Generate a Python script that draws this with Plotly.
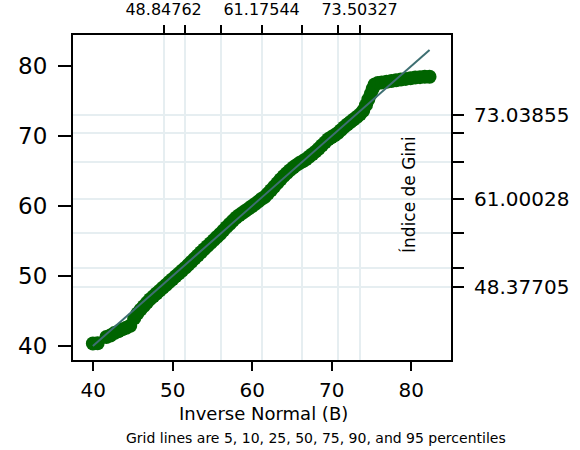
import plotly.graph_objects as go

# Inverse normal quantiles (x) and sorted Gini index values (y)
inv_normal = [39.95, 40.55, 41.65, 42.15, 42.65, 43.15, 43.65, 44.15, 44.65, 45.15,
              45.55, 45.95, 46.35, 46.75, 47.15, 47.55, 47.95, 48.35, 48.75, 49.15,
              49.55, 49.95, 50.35, 50.75, 51.15, 51.55, 51.95, 52.35, 52.75, 53.15,
              53.55, 53.95, 54.35, 54.75, 55.15, 55.55, 55.95, 56.35, 56.75, 57.15,
              57.55, 57.95, 58.35, 58.75, 59.15, 59.55, 59.95, 60.35, 60.75, 61.15,
              61.55, 61.95, 62.35, 62.75, 63.15, 63.55, 63.95, 64.35, 64.75, 65.15,
              65.55, 65.95, 66.35, 66.75, 67.15, 67.55, 67.95, 68.35, 68.75, 69.15,
              69.55, 69.95, 70.35, 70.75, 71.15, 71.55, 71.95, 72.35, 72.75, 73.15,
              73.55, 73.95, 74.30, 74.60, 74.90, 75.15, 75.40, 75.80, 76.30, 76.90,
              77.50, 78.10, 78.70, 79.30, 79.90, 80.50, 81.10, 81.70, 82.30]
gini = [40.30, 40.35, 41.25, 41.45, 41.80, 42.05, 42.35, 42.55, 42.85, 43.90,
        44.60, 45.15, 45.65, 46.15, 46.65, 47.05, 47.45, 47.87, 48.28, 48.68,
        49.10, 49.50, 49.91, 50.31, 50.72, 51.12, 51.56, 52.01, 52.45, 52.90,
        53.35, 53.80, 54.23, 54.66, 55.10, 55.55, 55.98, 56.45, 56.95, 57.40,
        57.85, 58.30, 58.65, 58.97, 59.30, 59.60, 59.93, 60.25, 60.60, 60.98,
        61.26, 61.72, 62.23, 62.72, 63.25, 63.77, 64.25, 64.68, 65.10, 65.47,
        65.82, 66.12, 66.37, 66.65, 67.02, 67.38, 67.75, 68.17, 68.62, 69.07,
        69.52, 69.80, 70.10, 70.40, 70.82, 71.25, 71.62, 71.98, 72.35, 72.70,
        73.08, 73.60, 74.40, 75.20, 76.00, 76.75, 77.35, 77.55, 77.65, 77.75,
        77.85, 77.95, 78.05, 78.15, 78.25, 78.35, 78.40, 78.45, 78.45]

x_ticks = [40, 50, 60, 70, 80]
y_ticks = [40, 50, 60, 70, 80]
# percentile grid (5,10,25,50,75,90,95)
x_pct = [48.84762, 51.57, 56.12, 61.17544, 66.23, 70.78, 73.50327]
x_pct_text = ["48.84762", "", "", "61.17544", "", "", "73.50327"]
y_pct = [48.37705, 51.14, 56.17, 61.00028, 66.28, 70.43, 73.03855]
y_pct_text = ["48.37705", "", "", "61.00028", "", "", "73.03855"]

FONT = "DejaVu Sans"
X_RANGE = [37.45, 85.0]
Y_RANGE = [37.95, 84.43]
GRID = "#e6eef1"

fig = go.Figure()
fig.add_trace(go.Scatter(x=inv_normal, y=gini, mode="markers",
                         marker=dict(size=14, color="#006400",
                                     line=dict(width=0)),
                         hoverinfo="skip", showlegend=False))
ends = [inv_normal[0], inv_normal[-1]]
fig.add_trace(go.Scatter(x=ends, y=ends, mode="lines",
                         line=dict(color="#3e6f72", width=2),
                         hoverinfo="skip", showlegend=False))
fig.add_trace(go.Scatter(x=[inv_normal[0]], y=[gini[0]], xaxis="x2", yaxis="y2",
                         mode="markers", marker=dict(opacity=0),
                         hoverinfo="skip", showlegend=False))

fig.update_layout(
    width=580, height=450,
    margin=dict(l=73, r=129, t=35, b=90, pad=0, autoexpand=False),
    paper_bgcolor="white", plot_bgcolor="white",
    font=dict(family=FONT, color="black"),
    xaxis=dict(range=X_RANGE, tickvals=x_ticks, ticks="outside", ticklen=9,
               tickwidth=2, tickcolor="black", showgrid=False, zeroline=False,
               showline=True, linecolor="black", linewidth=2, mirror=True,
               automargin=False,
               tickfont=dict(size=20, family=FONT), ticklabelstandoff=2),
    yaxis=dict(range=Y_RANGE, tickvals=y_ticks, ticks="outside", ticklen=13,
               tickwidth=2, tickcolor="black", showgrid=False, zeroline=False,
               showline=True, linecolor="black", linewidth=2, mirror=True,
               automargin=False,
               tickfont=dict(size=23, family=FONT), ticklabelstandoff=6),
    xaxis2=dict(range=X_RANGE, overlaying="x", side="top", tickvals=x_pct,
                ticktext=x_pct_text, ticks="outside", ticklen=9, tickwidth=2,
                tickcolor="black", showgrid=True, gridcolor=GRID, gridwidth=2,
                zeroline=False, showline=False, automargin=False,
                tickfont=dict(size=16, family=FONT), ticklabelstandoff=4),
    yaxis2=dict(range=Y_RANGE, overlaying="y", side="right", tickvals=y_pct,
                ticktext=y_pct_text, ticks="outside", ticklen=12, tickwidth=2,
                tickcolor="black", showgrid=True, gridcolor=GRID, gridwidth=2,
                zeroline=False, showline=False, automargin=False,
                tickfont=dict(size=20, family=FONT), ticklabelstandoff=6),
    annotations=[
        dict(text="Inverse Normal (B)", xref="paper", yref="paper",
             x=0.503, y=-0.166, xanchor="center", yanchor="middle",
             showarrow=False, font=dict(size=18, family=FONT)),
        dict(text="Grid lines are 5, 10, 25, 50, 75, 90, and 95 percentiles",
             xref="paper", yref="paper", x=0.643, y=-0.240,
             xanchor="center", yanchor="middle", showarrow=False,
             font=dict(size=14, family=FONT)),
        dict(text="Índice de Gini", xref="paper", yref="paper",
             x=0.889, y=0.508, textangle=-90, xanchor="center",
             yanchor="middle", showarrow=False,
             font=dict(size=17, family=FONT)),
    ],
)

fig.write_html("out.html")
